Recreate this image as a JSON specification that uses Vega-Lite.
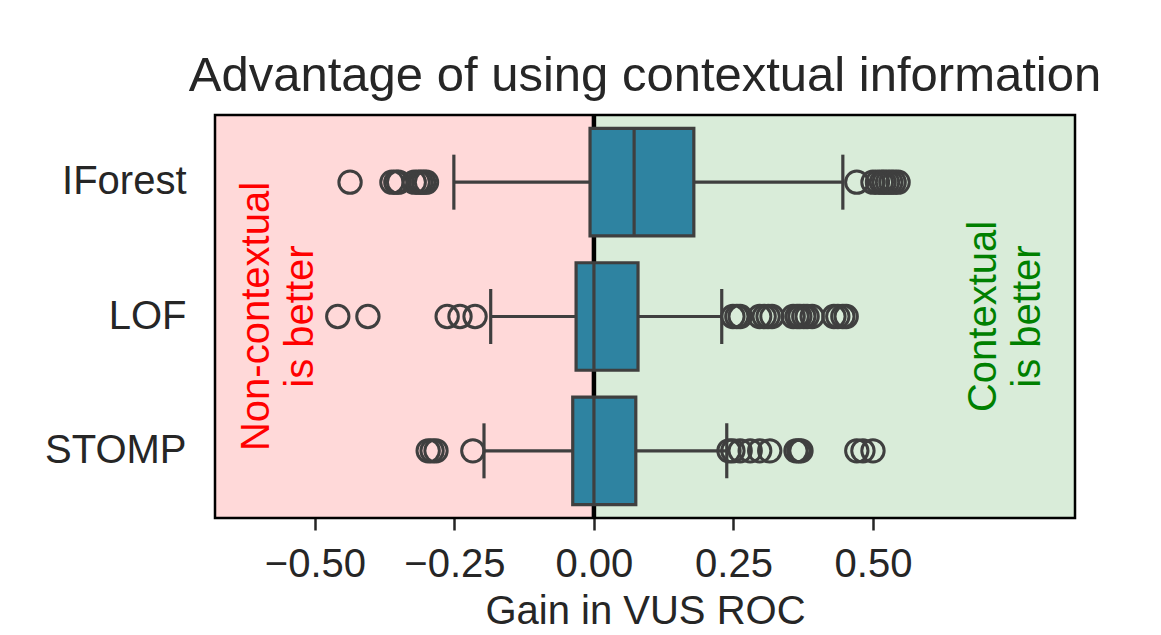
{
  "$schema": "https://vega.github.io/schema/vega-lite/v6.json",
  "width": 860,
  "height": 403,
  "autosize": {"type": "none"},
  "padding": {"left": 215, "top": 115, "right": 86, "bottom": 117},
  "background": "white",
  "title": {
    "text": "Advantage of using contextual information",
    "font": "Liberation Sans",
    "fontSize": 49,
    "fontWeight": "normal",
    "color": "#262626",
    "anchor": "middle",
    "baseline": "alphabetic",
    "offset": -27
  },
  "config": {
    "view": {"stroke": null},
    "font": "Liberation Sans",
    "axis": {
      "labelFont": "Liberation Sans",
      "titleFont": "Liberation Sans",
      "labelColor": "#262626",
      "titleColor": "#262626",
      "labelFontSize": 40,
      "titleFontSize": 40,
      "titleFontWeight": "normal",
      "grid": false,
      "domain": false
    }
  },
  "datasets": {
    "regions": [
      {"side": "Non-contextual", "start": -0.679, "end": 0},
      {"side": "Contextual", "start": 0, "end": 0.862}
    ],
    "zero": [{"gain": 0}],
    "frame": [{"start": -0.679, "end": 0.862}],
    "boxes": [
      {"method": "IForest", "lower": -0.251, "q1": -0.007, "median": 0.072, "q3": 0.179, "upper": 0.446},
      {"method": "LOF", "lower": -0.185, "q1": -0.032, "median": 0.0, "q3": 0.079, "upper": 0.229},
      {"method": "STOMP", "lower": -0.197, "q1": -0.038, "median": 0.0, "q3": 0.075, "upper": 0.238}
    ],
    "outliers": [
      {"method": "IForest", "gain": -0.437},
      {"method": "IForest", "gain": -0.362},
      {"method": "IForest", "gain": -0.355},
      {"method": "IForest", "gain": -0.35},
      {"method": "IForest", "gain": -0.322},
      {"method": "IForest", "gain": -0.315},
      {"method": "IForest", "gain": -0.31},
      {"method": "IForest", "gain": -0.305},
      {"method": "IForest", "gain": -0.3},
      {"method": "IForest", "gain": 0.471},
      {"method": "IForest", "gain": 0.5},
      {"method": "IForest", "gain": 0.508},
      {"method": "IForest", "gain": 0.515},
      {"method": "IForest", "gain": 0.52},
      {"method": "IForest", "gain": 0.526},
      {"method": "IForest", "gain": 0.532},
      {"method": "IForest", "gain": 0.538},
      {"method": "IForest", "gain": 0.545},
      {"method": "LOF", "gain": -0.459},
      {"method": "LOF", "gain": -0.405},
      {"method": "LOF", "gain": -0.263},
      {"method": "LOF", "gain": -0.24},
      {"method": "LOF", "gain": -0.213},
      {"method": "LOF", "gain": 0.249},
      {"method": "LOF", "gain": 0.256},
      {"method": "LOF", "gain": 0.262},
      {"method": "LOF", "gain": 0.297},
      {"method": "LOF", "gain": 0.305},
      {"method": "LOF", "gain": 0.312},
      {"method": "LOF", "gain": 0.319},
      {"method": "LOF", "gain": 0.357},
      {"method": "LOF", "gain": 0.364},
      {"method": "LOF", "gain": 0.369},
      {"method": "LOF", "gain": 0.376},
      {"method": "LOF", "gain": 0.382},
      {"method": "LOF", "gain": 0.391},
      {"method": "LOF", "gain": 0.43},
      {"method": "LOF", "gain": 0.437},
      {"method": "LOF", "gain": 0.446},
      {"method": "LOF", "gain": 0.452},
      {"method": "STOMP", "gain": -0.297},
      {"method": "STOMP", "gain": -0.29},
      {"method": "STOMP", "gain": -0.283},
      {"method": "STOMP", "gain": -0.217},
      {"method": "STOMP", "gain": 0.242},
      {"method": "STOMP", "gain": 0.249},
      {"method": "STOMP", "gain": 0.262},
      {"method": "STOMP", "gain": 0.28},
      {"method": "STOMP", "gain": 0.297},
      {"method": "STOMP", "gain": 0.315},
      {"method": "STOMP", "gain": 0.362},
      {"method": "STOMP", "gain": 0.367},
      {"method": "STOMP", "gain": 0.371},
      {"method": "STOMP", "gain": 0.471},
      {"method": "STOMP", "gain": 0.482},
      {"method": "STOMP", "gain": 0.5}
    ],
    "notes": [
      {"method": "LOF", "gain": -0.604, "label": "Non-contextual\nis better", "side": "Non-contextual"},
      {"method": "LOF", "gain": 0.699, "label": "Contextual\nis better", "side": "Contextual"}
    ]
  },
  "encoding": {
    "y": {
      "field": "method",
      "type": "nominal",
      "sort": ["IForest", "LOF", "STOMP"],
      "scale": {"type": "band", "paddingInner": 0, "paddingOuter": 0},
      "axis": {"title": null, "ticks": false, "tickSize": 0, "labelPadding": 29, "labelFontSize": 40}
    }
  },
  "layer": [
    {
      "data": {"name": "regions"},
      "mark": {"type": "rect", "opacity": 1},
      "encoding": {
        "y": null,
        "x": {
          "field": "start",
          "type": "quantitative",
          "scale": {"domain": [-0.679, 0.862], "nice": false, "zero": false},
          "axis": {
            "title": "Gain in VUS ROC",
            "values": [-0.5, -0.25, 0, 0.25, 0.5],
            "format": ".2f",
            "tickSize": 12,
            "tickWidth": 2.5,
            "tickColor": "#262626",
            "labelPadding": 14,
            "titlePadding": 7
          }
        },
        "x2": {"field": "end"},
        "color": {
          "field": "side",
          "type": "nominal",
          "scale": {"domain": ["Non-contextual", "Contextual"], "range": ["#ffd9d9", "#d9ecd9"]},
          "legend": null
        }
      }
    },
    {
      "data": {"name": "zero"},
      "mark": {"type": "rule", "color": "#000000", "strokeWidth": 4.5},
      "encoding": {"y": null, "x": {"field": "gain", "type": "quantitative"}}
    },
    {
      "data": {"name": "boxes"},
      "mark": {"type": "rule", "color": "#3f3f3f", "strokeWidth": 3.2},
      "encoding": {"x": {"field": "lower", "type": "quantitative"}, "x2": {"field": "q1"}}
    },
    {
      "data": {"name": "boxes"},
      "mark": {"type": "rule", "color": "#3f3f3f", "strokeWidth": 3.2},
      "encoding": {"x": {"field": "q3", "type": "quantitative"}, "x2": {"field": "upper"}}
    },
    {
      "data": {"name": "boxes"},
      "mark": {"type": "tick", "orient": "vertical", "color": "#3f3f3f", "size": 55, "thickness": 3.2, "opacity": 1},
      "encoding": {"x": {"field": "lower", "type": "quantitative"}}
    },
    {
      "data": {"name": "boxes"},
      "mark": {"type": "tick", "orient": "vertical", "color": "#3f3f3f", "size": 55, "thickness": 3.2, "opacity": 1},
      "encoding": {"x": {"field": "upper", "type": "quantitative"}}
    },
    {
      "data": {"name": "boxes"},
      "mark": {"type": "bar", "fill": "#2e83a1", "stroke": "#3f3f3f", "strokeWidth": 3.2, "height": {"band": 0.8}, "opacity": 1},
      "encoding": {"x": {"field": "q1", "type": "quantitative"}, "x2": {"field": "q3"}}
    },
    {
      "data": {"name": "boxes"},
      "mark": {"type": "tick", "orient": "vertical", "color": "#3f3f3f", "size": 106, "thickness": 3.2, "opacity": 1},
      "encoding": {"x": {"field": "median", "type": "quantitative"}}
    },
    {
      "data": {"name": "outliers"},
      "mark": {"type": "point", "shape": "circle", "filled": false, "stroke": "#3f3f3f", "strokeWidth": 3, "size": 500, "opacity": 1},
      "encoding": {"x": {"field": "gain", "type": "quantitative"}}
    },
    {
      "data": {"name": "notes"},
      "mark": {"type": "text", "angle": 270, "align": "center", "baseline": "middle", "fontSize": 40, "font": "Liberation Sans", "lineBreak": "\n", "lineHeight": 44},
      "encoding": {
        "x": {"field": "gain", "type": "quantitative"},
        "text": {"field": "label"},
        "color": {
          "field": "side",
          "type": "nominal",
          "scale": {"domain": ["Non-contextual", "Contextual"], "range": ["#ff0000", "#008000"]},
          "legend": null
        }
      }
    },
    {
      "data": {"name": "frame"},
      "mark": {"type": "rect", "fill": null, "fillOpacity": 0, "stroke": "#000000", "strokeWidth": 2.5},
      "encoding": {"y": null, "x": {"field": "start", "type": "quantitative"}, "x2": {"field": "end"}}
    }
  ],
  "resolve": {"scale": {"color": "independent"}}
}
